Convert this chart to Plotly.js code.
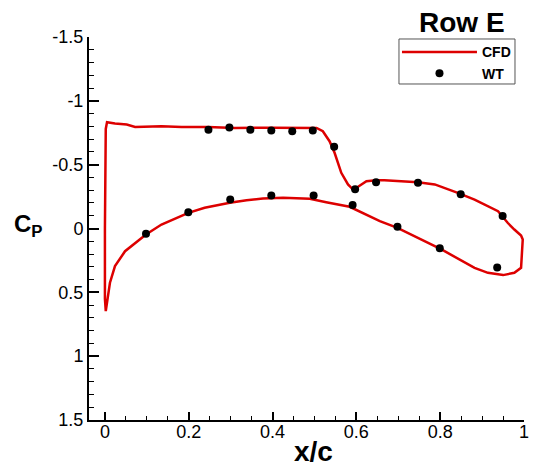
<!DOCTYPE html>
<html>
<head>
<meta charset="utf-8">
<script src="https://cdn.plot.ly/plotly-3.0.1.min.js"></script>
<style>html,body{margin:0;padding:0;background:#fff;}#chart{width:533px;height:469px;}</style>
</head>
<body>
<div id="chart"></div>
<script>
// CFD pressure distribution (closed loop: LE -> upper surface -> TE -> lower surface -> LE)
var cfdX = [0.002, 0.000, 0.000, 0.001, 0.002, 0.005, 0.024, 0.052, 0.072, 0.135, 0.183, 0.246, 0.310, 0.400, 0.505, 0.520, 0.536, 0.548, 0.564, 0.580, 0.592, 0.604, 0.624, 0.647, 0.667, 0.747, 0.787, 0.842, 0.882, 0.938, 0.961, 0.977, 0.993, 0.997, 0.995, 0.993, 0.977, 0.950, 0.914, 0.882, 0.803, 0.750, 0.698, 0.656, 0.584, 0.528, 0.489, 0.425, 0.377, 0.338, 0.298, 0.238, 0.199, 0.135, 0.098, 0.048, 0.024, 0.012, 0.006, 0.002];
var cfdCp = [0.647, 0.550, 0.000, -0.500, -0.780, -0.832, -0.822, -0.814, -0.796, -0.801, -0.796, -0.796, -0.788, -0.790, -0.788, -0.762, -0.684, -0.593, -0.436, -0.345, -0.305, -0.327, -0.371, -0.378, -0.378, -0.363, -0.345, -0.279, -0.227, -0.136, -0.045, 0.008, 0.055, 0.086, 0.200, 0.308, 0.347, 0.365, 0.347, 0.308, 0.164, 0.080, -0.005, -0.057, -0.170, -0.206, -0.233, -0.240, -0.235, -0.222, -0.201, -0.162, -0.123, -0.031, 0.047, 0.178, 0.295, 0.425, 0.556, 0.647];

// Wind tunnel measurements
var wtX = [0.247, 0.297, 0.347, 0.397, 0.447, 0.496, 0.547, 0.597, 0.647, 0.747, 0.849, 0.949, 0.098, 0.199, 0.299, 0.397, 0.498, 0.591, 0.698, 0.799, 0.936];
var wtCp = [-0.773, -0.791, -0.773, -0.767, -0.762, -0.767, -0.640, -0.308, -0.363, -0.358, -0.269, -0.097, 0.042, -0.128, -0.227, -0.258, -0.258, -0.185, -0.013, 0.154, 0.305];

// Tick labels
var xTickVals = [0, 0.2, 0.4, 0.6, 0.8, 1];
var xTickText = ["0", "0.2", "0.4", "0.6", "0.8", "1"];
var yTickVals = [-1.5, -1, -0.5, 0, 0.5, 1, 1.5];
var yTickText = ["-1.5", "-1", "-0.5", "0", "0.5", "1", "1.5"];

var FONT = "Liberation Sans, Arial, Helvetica, sans-serif";

var traces = [
  {x: cfdX, y: cfdCp, mode: "lines", name: "CFD",
   line: {color: "#dd0000", width: 2.5}},
  {x: wtX, y: wtCp, mode: "markers", name: "WT",
   marker: {color: "#000000", size: 8, symbol: "circle"}}
];

var layout = {
  width: 533, height: 469,
  margin: {l: 89, r: 9, t: 37, b: 49},
  paper_bgcolor: "#ffffff", plot_bgcolor: "#ffffff",
  font: {family: FONT, size: 18, color: "#000"},
  showlegend: true,
  title: {text: "Row E", font: {family: FONT, size: 28, weight: "bold", color: "#000"},
          x: 0.857, xanchor: "center", xref: "paper", y: 0.952, yanchor: "middle"},
  legend: {x: 0.7080, xanchor: "left", y: 1.0016, yanchor: "top",
           bgcolor: "rgba(0,0,0,0)", borderwidth: 0,
           font: {family: FONT, size: 14, weight: "bold", color: "#000"},
           itemwidth: 75, tracegroupgap: 0},
  shapes: [
    {type: "rect", xref: "paper", yref: "paper", layer: "below",
     x0: 0.7126, x1: 0.9793, y0: 0.8773, y1: 0.9948,
     line: {color: "#555555", width: 1}, fillcolor: "#ffffff"}
  ],
  xaxis: {range: [-0.038, 1.0], showline: true, linecolor: "#000", linewidth: 2,
          mirror: false, showgrid: false, zeroline: false,
          tickmode: "array", tickvals: xTickVals, ticktext: xTickText,
          ticks: "inside", ticklen: 8, tickwidth: 2, tickcolor: "#000",
          minor: {dtick: 0.05, tick0: 0, ticks: "inside", ticklen: 4, tickwidth: 1, tickcolor: "#000", showgrid: false},
          tickfont: {family: FONT, size: 18, color: "#000"}, ticklabelstandoff: -6},
  yaxis: {range: [1.5, -1.5], showline: true, linecolor: "#000", linewidth: 2,
          mirror: false, showgrid: false, zeroline: false,
          tickmode: "array", tickvals: yTickVals, ticktext: yTickText,
          ticks: "inside", ticklen: 10, tickwidth: 2, tickcolor: "#000",
          minor: {dtick: 0.1, tick0: 0, ticks: "inside", ticklen: 5, tickwidth: 1, tickcolor: "#000", showgrid: false},
          tickfont: {family: FONT, size: 18, color: "#000"}},
  annotations: [
    {text: "<b>C<sub>P</sub></b>", xref: "paper", yref: "paper", x: -0.14, y: 0.508,
     xanchor: "center", yanchor: "middle", showarrow: false,
     font: {family: FONT, size: 24, color: "#000"}},
    {text: "<b>x/c</b>", xref: "paper", yref: "paper", x: 0.517, y: -0.083,
     xanchor: "center", yanchor: "middle", showarrow: false,
     font: {family: FONT, size: 28, color: "#000"}}
  ]
};

Plotly.newPlot("chart", traces, layout, {displayModeBar: false, staticPlot: true});
</script>
</body>
</html>
